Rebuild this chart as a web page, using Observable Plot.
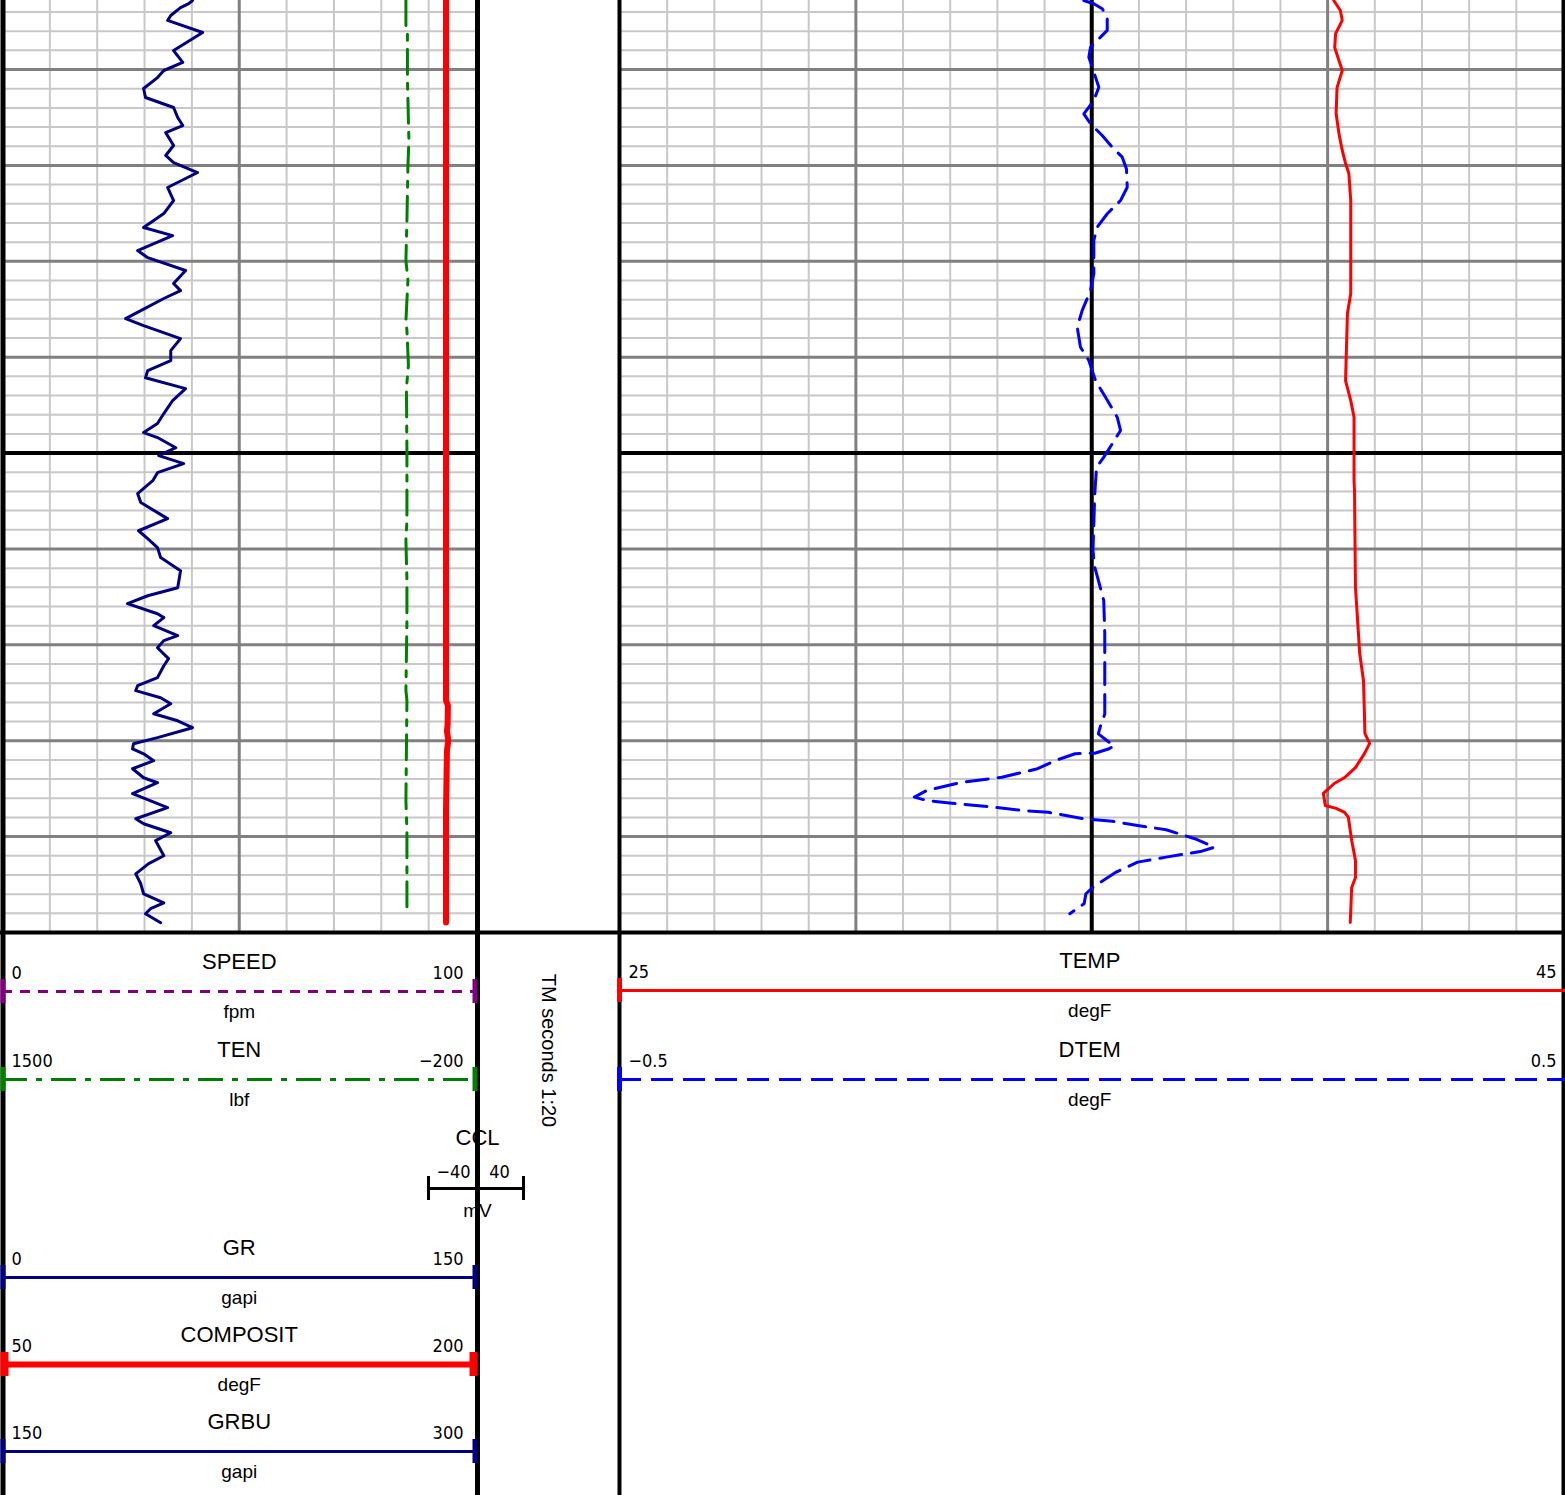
<!DOCTYPE html>
<html><head><meta charset="utf-8">
<script src="https://cdn.jsdelivr.net/npm/d3@7"></script>
<script src="https://cdn.jsdelivr.net/npm/@observablehq/plot@0.6"></script>
<style>
html,body{margin:0;padding:0;background:#fff;}
#chart{position:relative;width:1565px;height:1495px;overflow:hidden;background:#fff;}
#chart svg{position:absolute;left:0;top:0;background:transparent;}
</style></head><body><div id="chart"></div>
<script>
// ---------- DATA (time index in seconds, values in curve units) ----------
const grTime = [76.40,76.56,76.77,77.18,77.44,78.07,79.01,79.63,80.05,80.42,80.99,81.46,81.98,82.50,82.92,83.29,83.96,84.48,84.85,85.37,86.15,86.83,87.51,88.24,88.66,89.44,89.81,90.48,91.16,91.53,91.94,92.57,92.99,93.35,94.03,94.66,95.18,95.70,96.07,96.64,97.26,97.94,98.46,98.93,99.19,99.72,100.13,100.55,101.02,101.44,102.11,102.58,103.42,104.05,104.46,104.93,105.45,106.13,107.02,107.44,107.85,108.38,108.58,109.00,109.52,109.78,110.15,110.72,111.09,111.71,112.13,112.39,112.76,113.07,113.59,113.96,114.32,114.84,115.16,115.42,115.68,116.04,116.46,116.93,117.19,117.76,118.49,119.07,119.33,119.80,120.21,121.00,121.41,121.94,122.46,122.98,123.45,123.76,124.02,124.49];
const grValues = [60.2,59.0,56.4,53.3,52.3,63.4,54.2,57.1,51.1,49.1,44.7,45.3,54.2,55.5,57.1,51.7,54.2,51.7,54.2,61.8,52.3,54.2,51.1,44.7,53.9,42.8,46.0,58.0,54.2,56.4,51.1,43.8,39.0,44.7,56.4,53.3,53.3,46.0,45.3,58.0,53.9,51.1,49.1,44.7,49.1,54.9,49.5,57.4,49.1,47.6,42.8,43.8,52.3,43.1,46.0,49.1,50.1,56.4,55.5,46.0,39.6,49.1,51.1,47.9,55.5,51.1,49.1,52.6,51.1,49.1,42.8,42.2,50.1,53.3,47.9,55.5,60.2,49.1,41.5,41.2,44.7,47.9,41.2,44.7,49.1,41.2,52.3,42.2,44.7,53.3,48.5,51.1,46.3,42.2,43.8,44.7,51.1,46.9,45.3,50.1];

const tenTime = [76.40,77.70,77.96,80.57,83.70,85.00,87.87,89.96,91.00,93.09,93.61,95.43,96.63,99.87,103.52,104.56,106.64,108.73,112.38,112.90,118.12,119.68,124.11];
const tenValues = [51.6,51.6,46.2,46.2,40.8,44.4,48.0,51.6,44.4,51.6,48.0,42.6,49.8,48.0,48.0,51.6,48.0,48.0,51.6,48.0,51.6,48.0,48.0];

const compTime = [76.40,112.90,113.16,114.21,114.47,114.99,115.51,117.59,118.64,124.48];
const compValues = [190.5,190.5,191.1,191.0,190.8,191.2,190.8,190.6,190.5,190.5];

const tempTime = [76.40,76.92,77.44,78.12,78.85,79.53,80.05,80.94,82.29,83.34,84.22,84.90,85.42,86.83,91.68,92.72,96.22,97.26,98.14,101.43,101.95,107.01,108.89,110.45,111.86,113.58,114.62,115.14,115.67,116.40,116.92,117.23,117.75,118.38,118.53,118.74,119.00,120.20,121.24,122.13,122.65,124.48];
const tempValues = [40.13,40.27,40.31,40.17,40.15,40.24,40.31,40.20,40.18,40.24,40.31,40.38,40.45,40.49,40.49,40.42,40.38,40.49,40.56,40.56,40.57,40.59,40.64,40.68,40.76,40.78,40.79,40.89,40.78,40.59,40.36,40.14,39.91,39.95,40.18,40.36,40.44,40.51,40.59,40.59,40.51,40.48];

const dtemTime = [76.40,76.57,76.83,77.27,77.96,78.31,78.84,79.36,79.88,80.92,81.61,82.31,82.83,83.44,84.05,84.57,85.18,86.14,86.83,87.52,88.22,88.91,90.65,91.52,92.56,93.44,94.48,95.17,96.22,97.09,98.13,98.82,99.52,100.21,100.74,102.12,105.08,105.95,106.64,107.69,109.42,113.60,114.29,114.64,115.08,115.25,115.42,115.65,115.68,116.03,116.46,116.90,117.16,117.59,117.94,118.12,118.26,118.43,118.64,118.73,119.07,119.20,119.42,119.64,120.11,120.55,120.76,121.07,121.33,121.85,122.46,122.64,122.98,123.50,124.02];
const dtemValues = [-0.0084,0.0022,0.0111,0.0164,0.0164,0.0093,-0.0013,-0.0031,0.0005,0.0075,0.0022,-0.0084,-0.0013,0.0111,0.0217,0.0323,0.0368,0.0376,0.0305,0.0164,0.0058,0.0022,0.0022,-0.0013,-0.0101,-0.0154,-0.0119,-0.0031,0.0040,0.0146,0.0270,0.0305,0.0217,0.0128,0.0051,0.0032,0.0013,0.0032,0.0070,0.0127,0.0138,0.0138,0.0089,0.0070,0.0184,0.0240,0.0184,0.0032,-0.0176,-0.0384,-0.0574,-0.0952,-0.1369,-0.1747,-0.1880,-0.1747,-0.1482,-0.1104,-0.0724,-0.0459,-0.0081,0.0221,0.0486,0.0789,0.1092,0.1300,0.1167,0.0789,0.0486,0.0259,0.0070,0.0013,-0.0062,-0.0081,-0.0233];

// header (legend) content
const leftNames = ["SPEED","TEN","GR","COMPOSIT","GRBU"];
const leftUnits = ["fpm","lbf","gapi","degF","gapi"];
const leftMin = [0,1500,0,50,150];
const leftMax = [100,-200,150,200,300];
const rightNames = ["TEMP","DTEM"];
const rightUnits = ["degF","degF"];
const rightMin = [25,-0.5];
const rightMax = [45,0.5];
const cclName = "CCL", cclUnit = "mV", cclMin = -40, cclMax = 40;
const indexLabel = "TM seconds 1:20";

// ---------- LAYOUT / STYLE ----------
const W = 1565, H = 1495, GRID_H = 932;
const T0 = 76.4, T1 = 125;
const LEFT = [2, 475.5], RIGHT = [619.5, 1563];
const LIGHT = "#c8c8c8", DARK = "#808080";
const leftColors = ["#800080","#008000","#000080","#ff0000","#000080"];
const leftDash = ["10,8","25,9,6,9",null,null,null];
const leftWidth = [3,3,3,6,3];
const leftTickW = [5,5,5,8,5];
const rightColors = ["#ff0000","#0000ff"];
const rightDash = [null,"22,10"];
const FONT = "'Liberation Sans', Arial, sans-serif";
const NARROW = "'Liberation Sans Narrow', 'DejaVu Sans Condensed', 'Liberation Sans', sans-serif";

const chart = document.getElementById("chart");
function layer(xDomain, xRange, marks) {
  const svg = Plot.plot({
    width: W, height: GRID_H, margin: 0,
    x: {domain: xDomain, range: xRange, axis: null},
    y: {domain: [T0, T1], range: [0, GRID_H], axis: null},
    marks
  });
  svg.style.background = "transparent";
  chart.append(svg);
}

const ticks = d3.range(77, 125);
const lightT = ticks.filter(t => t % 5 !== 0);
const darkT = ticks.filter(t => t % 5 === 0 && t !== 100);
const blackT = [100];

// left track (GR scale carries the grid)
const grLight = d3.range(15, 150, 15).filter(v => v !== 75);
layer([0, 150], LEFT, [
  Plot.ruleX(grLight, {x: d => d, y1: T0, y2: T1, stroke: LIGHT, strokeWidth: 2}),
  Plot.ruleY(lightT, {y: d => d, x1: 0, x2: 150, stroke: LIGHT, strokeWidth: 2}),
  Plot.ruleX([75], {x: d => d, y1: T0, y2: T1, stroke: DARK, strokeWidth: 3}),
  Plot.ruleY(darkT, {y: d => d, x1: 0, x2: 150, stroke: DARK, strokeWidth: 3}),
  Plot.ruleY(blackT, {y: d => d, x1: 0, x2: 150, stroke: "#000", strokeWidth: 4}),
  Plot.line(grTime, {x: grValues, y: grTime, stroke: "#000080", strokeWidth: 3, strokeLinejoin: "round"})
]);
layer([1500, -200], LEFT, [
  Plot.line(tenTime, {x: tenValues, y: tenTime, stroke: "#008000", strokeWidth: 3, strokeDasharray: "25,9,6,9"})
]);
layer([50, 200], LEFT, [
  Plot.line(compTime, {x: compValues, y: compTime, stroke: "#ff0000", strokeWidth: 6})
]);

// right track (TEMP scale carries the grid)
const tLight = d3.range(26, 45).filter(v => v !== 30 && v !== 35 && v !== 40);
layer([25, 45], RIGHT, [
  Plot.ruleX(tLight, {x: d => d, y1: T0, y2: T1, stroke: LIGHT, strokeWidth: 2}),
  Plot.ruleY(lightT, {y: d => d, x1: 25, x2: 45, stroke: LIGHT, strokeWidth: 2}),
  Plot.ruleX([30, 40], {x: d => d, y1: T0, y2: T1, stroke: DARK, strokeWidth: 3}),
  Plot.ruleY(darkT, {y: d => d, x1: 25, x2: 45, stroke: DARK, strokeWidth: 3}),
  Plot.ruleY(blackT, {y: d => d, x1: 25, x2: 45, stroke: "#000", strokeWidth: 4}),
  Plot.ruleX([35], {x: d => d, y1: T0, y2: T1, stroke: "#000", strokeWidth: 4})
]);
layer([-0.5, 0.5], RIGHT, [
  Plot.line(dtemTime, {x: dtemValues, y: dtemTime, stroke: "#0000ff", strokeWidth: 3, strokeDasharray: "22,10", strokeLinejoin: "round"})
]);
layer([25, 45], RIGHT, [
  Plot.line(tempTime, {x: tempValues, y: tempTime, stroke: "#ff0000", strokeWidth: 3, strokeLinejoin: "round"})
]);

// ---------- HEADER + FRAME (pixel layout) ----------
const fmt = v => String(v).replace("-", "\u2212");
const leftLineY = [991, 1079, 1277, 1364, 1451];
const rightLineY = [990, 1079];
const LCX = (LEFT[0] + LEFT[1]) / 2, RCX = (RIGHT[0] + RIGHT[1]) / 2;

const rows = [];
leftNames.forEach((n, i) => rows.push({name: n, unit: leftUnits[i], min: fmt(leftMin[i]), max: fmt(leftMax[i]), y: leftLineY[i], cx: LCX, x0: 2, x1: 477, minX: 11, maxX: 463, color: leftColors[i], dash: leftDash[i], w: leftWidth[i], tw: leftTickW[i], both: true}));
rightNames.forEach((n, i) => rows.push({name: n, unit: rightUnits[i], min: fmt(rightMin[i]), max: fmt(rightMax[i]), y: rightLineY[i], cx: RCX - 2, x0: 619, x1: 1565, minX: 628, maxX: 1556, color: rightColors[i], dash: rightDash[i], w: 3, tw: 5, both: false}));

const cclX = [428, 523], cclC = 477, cclY = 1188;

const textMarks = [
  Plot.text(rows, {x: "cx", y: d => d.y - 30, text: "name", fontSize: 22, fontFamily: FONT, fill: "#000"}),
  Plot.text(rows, {x: "cx", y: d => d.y + 20, text: "unit", fontSize: 19, fontFamily: FONT, fill: "#000"}),
  Plot.text(rows, {x: "minX", y: d => d.y - 18, text: "min", fontSize: 18, fontFamily: NARROW, textAnchor: "start", fill: "#000"}),
  Plot.text(rows, {x: "maxX", y: d => d.y - 18, text: "max", fontSize: 18, fontFamily: NARROW, textAnchor: "end", fill: "#000"}),
  Plot.text([cclName], {x: cclC, y: 1137, text: d => d, fontSize: 22, fontFamily: FONT, fill: "#000"}),
  Plot.text([cclUnit], {x: cclC, y: 1210, text: d => d, fontSize: 19, fontFamily: FONT, fill: "#000"}),
  Plot.text([fmt(cclMin)], {x: 453, y: 1172, text: d => d, fontSize: 18, fontFamily: NARROW, fill: "#000"}),
  Plot.text([fmt(cclMax)], {x: 499, y: 1172, text: d => d, fontSize: 18, fontFamily: NARROW, fill: "#000"}),
  Plot.text([indexLabel], {x: 548, y: 1050, text: d => d, rotate: 90, fontSize: 20, fontFamily: FONT, fill: "#000"})
];

const frameMarks = [
  Plot.ruleX([2.5], {x: d => d, y1: 0, y2: H, stroke: "#000", strokeWidth: 5}),
  Plot.ruleX([477], {x: d => d, y1: 0, y2: H, stroke: "#000", strokeWidth: 5}),
  Plot.ruleX([619], {x: d => d, y1: 0, y2: H, stroke: "#000", strokeWidth: 4}),
  Plot.ruleX([1563], {x: d => d, y1: 0, y2: H, stroke: "#000", strokeWidth: 4}),
  Plot.ruleY([932], {y: d => d, x1: 0, x2: W, stroke: "#000", strokeWidth: 4})
];

const legendMarks = [];
rows.forEach(r => {
  legendMarks.push(Plot.ruleY([r.y], {y: d => d, x1: r.x0, x2: r.x1, stroke: r.color, strokeWidth: r.w, strokeDasharray: r.dash || undefined}));
  const ends = r.both ? [r.x0 + r.tw / 2 - 2, r.x1 - r.tw / 2] : [r.x0];
  legendMarks.push(Plot.ruleX(ends, {x: d => d, y1: r.y - 12, y2: r.y + 12, stroke: r.color, strokeWidth: r.tw}));
});
legendMarks.push(Plot.ruleY([cclY], {y: d => d, x1: cclX[0], x2: cclX[1], stroke: "#000", strokeWidth: 3}));
legendMarks.push(Plot.ruleX(cclX, {x: d => d, y1: cclY - 12, y2: cclY + 12, stroke: "#000", strokeWidth: 3}));

const header = Plot.plot({
  width: W, height: H, margin: 0,
  x: {domain: [0, W], range: [0, W], axis: null},
  y: {domain: [0, H], range: [0, H], axis: null},
  marks: [...textMarks, ...frameMarks, ...legendMarks]
});
header.style.background = "transparent";
chart.append(header);
</script>
</body></html>
